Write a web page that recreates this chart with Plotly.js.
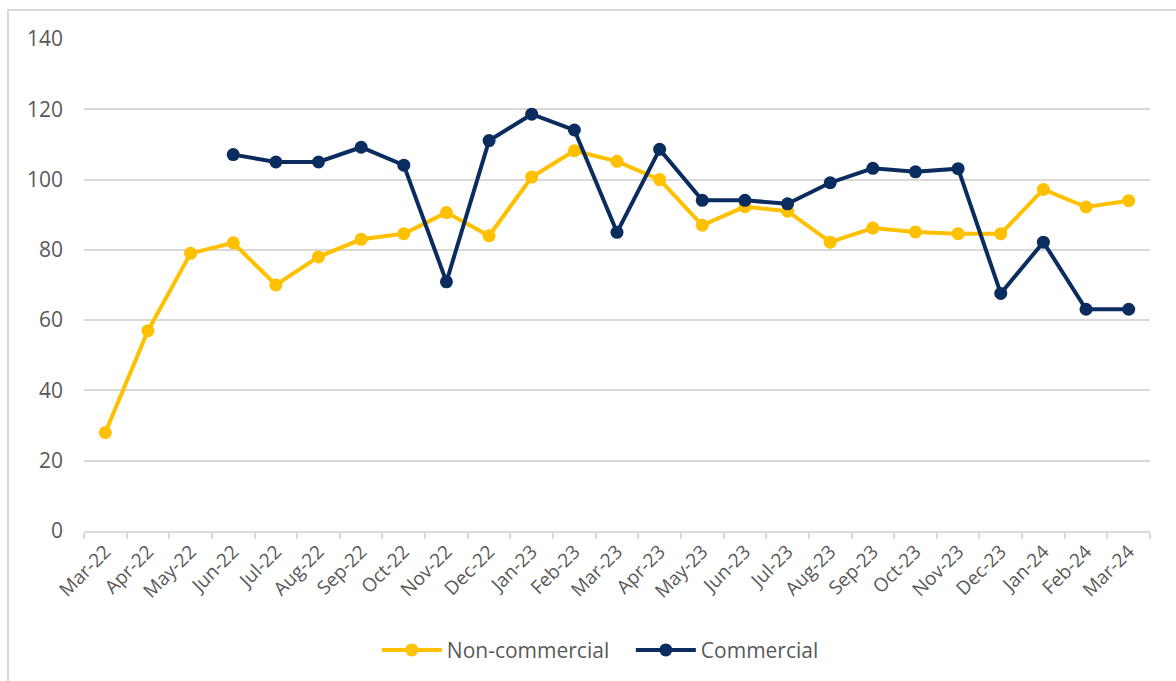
<!DOCTYPE html>
<html>
<head>
<meta charset="utf-8">
<script src="https://cdn.plot.ly/plotly-3.0.1.min.js"></script>
<style>
html,body{margin:0;padding:0;overflow:hidden;background:#fff;}
#frame{position:absolute;left:7px;top:9px;width:1300px;height:800px;border:2px solid #d9d9d9;pointer-events:none;z-index:5;}
#chart{position:absolute;left:0;top:0;width:1176px;height:681px;}
</style>
</head>
<body>
<div id="chart"></div>
<div id="frame"></div>
<script>
const months = ["Mar-22","Apr-22","May-22","Jun-22","Jul-22","Aug-22","Sep-22","Oct-22","Nov-22","Dec-22",
  "Jan-23","Feb-23","Mar-23","Apr-23","May-23","Jun-23","Jul-23","Aug-23","Sep-23","Oct-23","Nov-23","Dec-23",
  "Jan-24","Feb-24","Mar-24"];
const nonCommercial = [28, 57, 79, 82, 70, 78, 83, 84.6, 90.6, 84, 100.7, 108.2, 105.2, 100, 87, 92.3, 91, 82.2, 86.2, 85.1, 84.6, 84.6, 97.2, 92.2, 94];
const commercial = [null, null, null, 107.1, 105, 105, 109.2, 104.1, 70.9, 111.1, 118.6, 114.1, 85, 108.6, 94.1, 94.1, 93.1, 99.1, 103.2, 102.2, 103.1, 67.6, 82.2, 63.1, 63.1];
const yTicks = [0, 20, 40, 60, 80, 100, 120, 140];

const textColor = "#595959";
const gridColor = "#d9d9d9";
const font = "Open Sans, sans-serif";

const traces = [
  {x: months, y: nonCommercial, name: "Non-commercial", type: "scatter", mode: "lines+markers",
   line: {color: "#FFC000", width: 4}, marker: {color: "#FFC000", size: 13}},
  {x: months, y: commercial, name: "Commercial", type: "scatter", mode: "lines+markers",
   line: {color: "#0B2C5E", width: 4}, marker: {color: "#0B2C5E", size: 13}, connectgaps: false}
];

const layout = {
  width: 1176, height: 681,
  margin: {l: 84, r: 26, t: 39, b: 149},
  paper_bgcolor: "rgba(0,0,0,0)", plot_bgcolor: "#fff",
  showlegend: true,
  font: {family: font, color: textColor, size: 19},
  xaxis: {
    type: "category", categoryorder: "array", categoryarray: months,
    showgrid: false, showline: true, linecolor: gridColor, linewidth: 2,
    ticks: "outside", tickson: "boundaries", ticklen: 6, tickcolor: gridColor, tickwidth: 2,
    tickangle: -45, tickfont: {family: font, size: 19, color: textColor},
    range: [-0.5, months.length - 0.5], fixedrange: true
  },
  yaxis: {
    range: [0, 140], tickvals: yTicks, ticktext: yTicks.map(String),
    showgrid: true, gridcolor: gridColor, gridwidth: 2, zeroline: false,
    showline: false, ticks: "", ticklabelstandoff: 20,
    tickfont: {family: font, size: 21, color: textColor}, fixedrange: true
  },
  legend: {
    orientation: "h", x: 0.2747, xanchor: "left", y: -0.24, yanchor: "middle",
    font: {family: font, size: 21, color: textColor}, itemwidth: 60, entrywidth: 179
  }
};

Plotly.newPlot("chart", traces, layout, {displayModeBar: false, staticPlot: true});
</script>
</body>
</html>
